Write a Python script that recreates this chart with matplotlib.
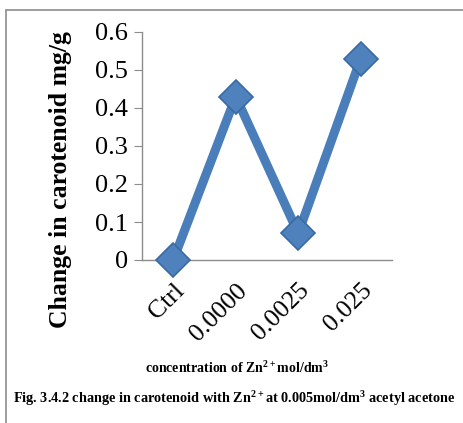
import matplotlib
matplotlib.use("Agg")
import matplotlib.pyplot as plt
from matplotlib.patches import Rectangle

categories = ["Ctrl", "0.0000", "0.0025", "0.025"]
carotenoid = [0.0, 0.43, 0.07, 0.53]
yticks = [0, 0.1, 0.2, 0.3, 0.4, 0.5, 0.6]
ytick_labels = ["0", "0.1", "0.2", "0.3", "0.4", "0.5", "0.6"]

plt.rcParams["font.family"] = ["Liberation Serif", "DejaVu Serif"]
plt.rcParams["mathtext.fontset"] = "custom"
plt.rcParams["mathtext.rm"] = "Liberation Serif:bold"
plt.rcParams["mathtext.bf"] = "Liberation Serif:bold"

fig = plt.figure(figsize=(4.64, 4.23), dpi=100)
W, H = 464, 423

# frame round the whole figure
fig.patches.append(Rectangle((6 / W, -0.01), 1.0, 1 - 10 / H + 0.01, transform=fig.transFigure,
                             fill=False, edgecolor="#8c8c8c", linewidth=1.2))

ax = fig.add_axes([142 / W, (H - 260) / H, 250 / W, 228 / H])
x = list(range(len(categories)))
ax.plot(x, carotenoid, color="#4a7ebb", linewidth=6.5, solid_joinstyle="miter",
        marker="D", markersize=17, markerfacecolor="#4f81bd",
        markeredgecolor="#3a6aa5", markeredgewidth=1.2, clip_on=False, zorder=3)

ax.set_xlim(-0.5, 3.5)
ax.set_ylim(0, 0.6)
ax.set_yticks(yticks)
ax.set_yticklabels(ytick_labels, fontsize=19)
ax.set_xticks(x)
ax.set_xticklabels(categories, fontsize=18.5, rotation=45, ha="right",
                   rotation_mode="anchor")
ax.tick_params(axis="y", direction="out", length=6, color="#8c8c8c", pad=4)
ax.tick_params(axis="x", length=0, pad=14)
for s in ["top", "right"]:
    ax.spines[s].set_visible(False)
for s in ["left", "bottom"]:
    ax.spines[s].set_color("#8c8c8c")
    ax.spines[s].set_linewidth(1.0)

fig.text(61 / W, 1 - 180 / H, "Change in carotenoid mg/g", rotation=90,
         ha="center", va="center", fontsize=18.5, fontweight="bold")

fig.text(237 / W, 1 - 368 / H, r"concentration of Zn$^{2+}$mol/dm$^3$",
         ha="center", va="center", fontsize=10, fontweight="bold")
fig.text(234 / W, 1 - 398 / H,
         r"Fig. 3.4.2 change in carotenoid with Zn$^{2+}$at 0.005mol/dm$^3$ acetyl acetone",
         ha="center", va="center", fontsize=10.3, fontweight="bold")

fig.savefig("out.png", dpi=100)
